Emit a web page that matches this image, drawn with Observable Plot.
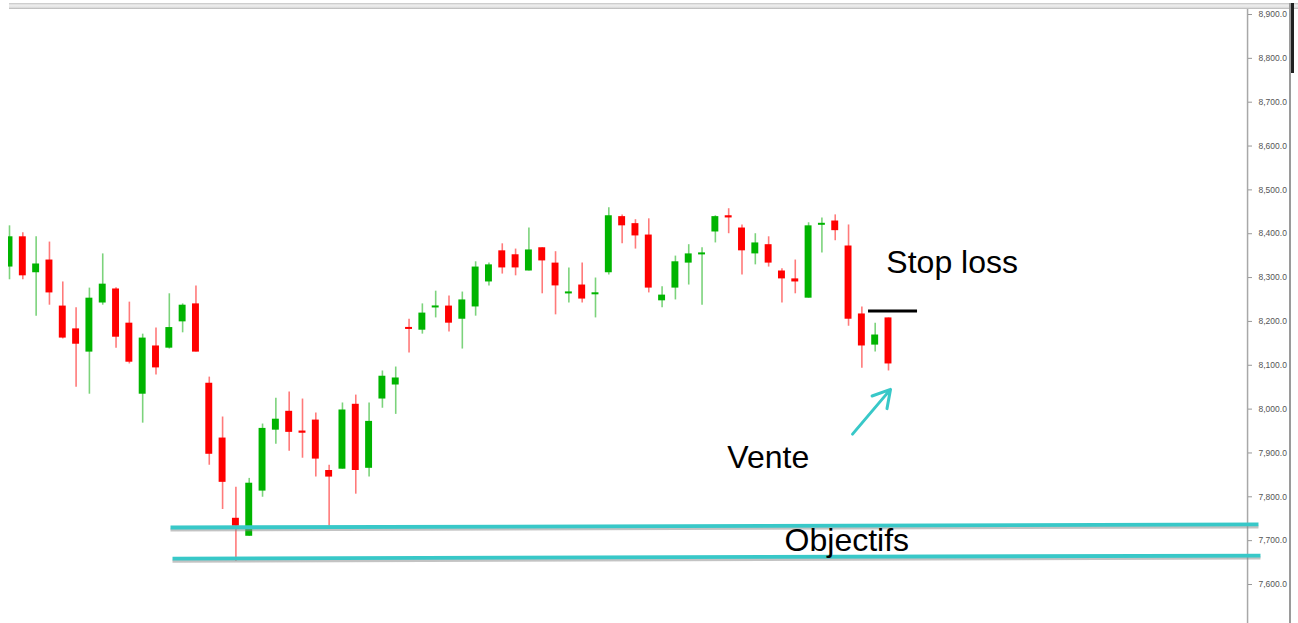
<!DOCTYPE html>
<html><head><meta charset="utf-8">
<script src="https://cdn.jsdelivr.net/npm/d3@7"></script>
<script src="https://cdn.jsdelivr.net/npm/@observablehq/plot@0.6"></script>
<style>
html,body{margin:0;padding:0;background:#fff;}
#wrap{position:relative;width:1298px;height:623px;overflow:hidden;}
#topbar{position:absolute;left:9px;right:0;top:3px;height:6px;background:linear-gradient(#c4c4c4,#eeeeee 35%,#e4e4e4 70%,#b4b4b4);}
#rightedge{position:absolute;left:1289px;top:3px;width:2px;height:620px;background:#9a9a9a;}
#rightdark{position:absolute;left:1291px;top:3px;width:3px;height:70px;background:#222;}
</style></head><body><div id="wrap"></div>
<script>
// OHLC values (one candle per session)
const open  = [8324,8393,8311,8340,8235,8183,8130,8242,8274,8196,8034,8144,8139,8199,8240,8059,7934,7751,7710,7813,7952,7995,7950,7975,7860,7863,8011,7865,8023,8055,8186,8180,8231,8235,8205,8233,8290,8361,8352,8315,8368,8333,8263,8283,8261,8311,8439,8423,8397,8247,8276,8333,8352,8404,8441,8413,8354,8375,8315,8297,8253,8420,8429,8372,8217,8146,8208];
const high  = [8418,8402,8393,8381,8290,8231,8276,8354,8277,8244,8171,8185,8263,8240,8281,8073,7982,7822,7842,7966,8025,8039,8023,7991,7872,8014,8032,8014,8087,8096,8205,8240,8269,8258,8267,8336,8333,8377,8365,8413,8368,8359,8322,8333,8299,8459,8443,8432,8434,8279,8349,8375,8368,8441,8457,8420,8400,8393,8320,8340,8425,8436,8443,8420,8233,8196,8208];
const low   = [8295,8295,8212,8237,8160,8050,8034,8237,8139,8103,7968,8078,8137,8174,8130,7872,7771,7653,7710,7799,7920,7904,7888,7845,7733,7863,7806,7845,8002,7988,8128,8171,8208,8176,8137,8212,8281,8308,8304,8315,8263,8215,8242,8242,8208,8306,8377,8365,8265,8231,8249,8283,8237,8379,8400,8306,8329,8324,8242,8263,8253,8356,8384,8189,8093,8130,8087];
const close = [8393,8304,8331,8265,8162,8148,8253,8285,8164,8107,8162,8094,8186,8237,8130,7897,7833,7733,7831,7956,7977,7947,7945,7886,7845,7998,7860,7972,8075,8071,8182,8219,8235,8196,8249,8324,8329,8322,8322,8363,8338,8281,8267,8251,8265,8441,8418,8395,8276,8260,8336,8354,8356,8439,8436,8361,8379,8333,8297,8290,8418,8423,8407,8205,8144,8169,8103];

// axis ticks
const yTicks = [7600,7700,7800,7900,8000,8100,8200,8300,8400,8500,8600,8700,8800,8900];

// annotations: objective lines (session index, price)
const objX1 = [12.09, 12.24];
const objY1 = [7730, 7659];
const objX2 = [93.78, 93.93];
const objY2 = [7737, 7666];
// stop loss
const stopLevel = [8224];
const stopFrom = [64.5];
const stopTo = [68.18];
// arrow (Vente)
const arrowFrom = [63.3, 7943];
const arrowTo = [66.15, 8045];
// text labels
const labelText = ["Stop loss", "Vente", "Objectifs"];
const labelX = [65.84, 53.9, 58.2];
const labelY = [8333, 7888, 7700];
const axisEdge = [92.96];

const candles = open.map((o, i) => ({i, o, h: high[i], l: low[i], c: close[i], up: close[i] >= o}));
const objectives = objX1.map((x, k) => ({x1: x, y1: objY1[k], x2: objX2[k], y2: objY2[k]}));
const labels = labelText.map((t, k) => ({t, x: labelX[k], y: labelY[k]}));
const cyan = "#38c8c8";

const chart = Plot.plot({
  width: 1298, height: 623,
  marginLeft: 8, marginRight: 51, marginTop: 8, marginBottom: 0,
  style: {background: "transparent", fontFamily: "Liberation Sans, Arial, sans-serif"},
  x: {domain: [0, 66], range: [9, 888], axis: null},
  y: {domain: [7600, 8900], range: [584, 14], axis: null},
  marks: [
    Plot.ruleX(axisEdge, {stroke: "#a8a8a8", strokeWidth: 1.5}),
    Plot.axisY({anchor: "right", ticks: yTicks, tickFormat: d3.format(",.1f"), tickSize: 4, tickPadding: 7,
      fontSize: 8.5, color: "#555", stroke: "#999"}),
    Plot.ruleX(candles, {x: "i", y1: "l", y2: "h", stroke: d => d.up ? "#7cd37c" : "#ff7a7a", strokeWidth: 1.6, clip: true}),
    Plot.rect(candles, {
      x1: d => d.i - 0.26, x2: d => d.i + 0.26,
      y1: d => Math.abs(d.o - d.c) < 4.6 ? (d.o + d.c) / 2 - 2.3 : Math.min(d.o, d.c),
      y2: d => Math.abs(d.o - d.c) < 4.6 ? (d.o + d.c) / 2 + 2.3 : Math.max(d.o, d.c),
      fill: d => d.up ? "#00b400" : "#ff0000", clip: true}),
    Plot.link(objectives, {x1: "x1", y1: "y1", x2: "x2", y2: "y2", stroke: "#888", strokeOpacity: 0.5, strokeWidth: 3, dy: 2.5}),
    Plot.link(objectives, {x1: "x1", y1: "y1", x2: "x2", y2: "y2", stroke: cyan, strokeWidth: 3.8}),
    Plot.ruleY(stopLevel, {x1: stopFrom[0], x2: stopTo[0], stroke: "#000", strokeWidth: 3}),
    Plot.arrow([{x1: arrowFrom[0], y1: arrowFrom[1], x2: arrowTo[0], y2: arrowTo[1]}],
      {x1: "x1", y1: "y1", x2: "x2", y2: "y2", stroke: cyan, strokeWidth: 3, headLength: 13}),
    Plot.text(labels, {x: "x", y: "y", text: "t", textAnchor: "start", fontSize: 32,
      fontFamily: "Liberation Sans, Arial, sans-serif", fill: "#000"})
  ]
});
const wrap = document.getElementById("wrap");
wrap.appendChild(chart);
chart.style.position = "absolute"; chart.style.left = "0"; chart.style.top = "0";
for (const id of ["topbar", "rightedge", "rightdark"]) { const d = document.createElement("div"); d.id = id; wrap.appendChild(d); }
</script>
</body></html>
